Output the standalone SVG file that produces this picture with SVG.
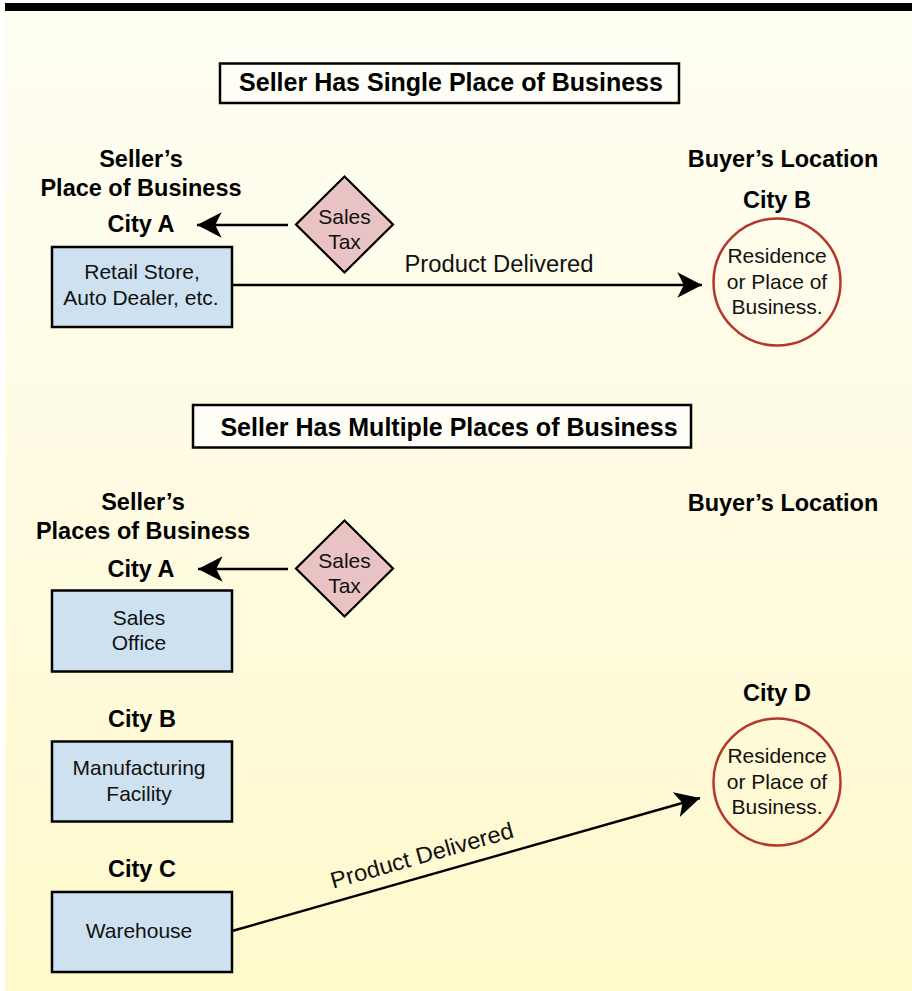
<svg xmlns="http://www.w3.org/2000/svg" width="912" height="991" viewBox="0 0 912 991">
  <defs>
    <linearGradient id="bg" x1="0" y1="0" x2="0" y2="1">
      <stop offset="0" stop-color="#fefef3"/>
      <stop offset="0.5" stop-color="#fffbe2"/>
      <stop offset="1" stop-color="#fff9cb"/>
    </linearGradient>
    <marker id="arrow" markerUnits="userSpaceOnUse" markerWidth="30" markerHeight="30" viewBox="-24 -14 26 28" refX="0" refY="0" orient="auto">
      <path d="M0,0 L-23,-12 L-17,0 L-23,12 Z" fill="#000"/>
    </marker>
    <style>
      .bold { font-family: "Liberation Sans", Arial, sans-serif; font-weight: bold; font-size: 23.5px; fill: #000; text-anchor: middle; }
      .title { font-family: "Liberation Sans", Arial, sans-serif; font-weight: bold; font-size: 25px; fill: #000; text-anchor: middle; }
      .body { font-family: "Liberation Sans", Arial, sans-serif; font-size: 21px; fill: #111; text-anchor: middle; }
      .label { font-family: "Liberation Sans", Arial, sans-serif; font-size: 23px; fill: #111; text-anchor: middle; }
      .titlebox { fill: #fefef6; stroke: #000; stroke-width: 2.5; }
      .box { fill: #cde1f0; stroke: #000; stroke-width: 2.5; }
      .tax { fill: #e9c3c3; stroke: #000; stroke-width: 2.2; }
      .buyer { fill: none; stroke: #b5372c; stroke-width: 2.5; }
      .conn { stroke: #000; stroke-width: 2.5; fill: none; marker-end: url(#arrow); }
    </style>
  </defs>

  <!-- page background and rule -->
  <rect x="5" y="11" width="907" height="980" fill="url(#bg)"/>
  <rect x="5" y="3" width="907" height="8" fill="#000"/>

  <!-- single place of business -->
  <g id="title-single">
    <rect class="titlebox" x="220" y="63.5" width="459" height="39.5"/>
    <text class="title" x="451" y="91">Seller Has Single Place of Business</text>
  </g>
  <g id="seller-heading-1">
    <text class="bold" x="141" y="167">Seller’s</text>
    <text class="bold" x="141" y="196">Place of Business</text>
    <text class="bold" x="141" y="232">City A</text>
  </g>
  <g id="tax-1">
    <polygon class="tax" points="344.5,176.5 393,224.5 344.5,272.5 296,224.5"/>
    <text class="body" x="344.5" y="224">Sales</text>
    <text class="body" x="344.5" y="249">Tax</text>
  </g>
  <g id="retail-store">
    <rect class="box" x="52" y="247" width="180" height="80"/>
    <text class="body" x="142" y="279">Retail Store,</text>
    <text class="body" x="141" y="305">Auto Dealer, etc.</text>
  </g>
  <g id="buyer-heading-1">
    <text class="bold" x="783" y="167">Buyer’s Location</text>
    <text class="bold" x="777" y="208">City B</text>
  </g>
  <g id="buyer-1">
    <circle class="buyer" cx="777" cy="282" r="63.5"/>
    <text class="body" x="777" y="263">Residence</text>
    <text class="body" x="777" y="289">or Place of</text>
    <text class="body" x="777" y="314">Business.</text>
  </g>

  <!-- multiple places of business -->
  <g id="title-multiple">
    <rect class="titlebox" x="193" y="405" width="498" height="42.5"/>
    <text class="title" x="449" y="436">Seller Has Multiple Places of Business</text>
  </g>
  <g id="seller-heading-2">
    <text class="bold" x="143" y="510">Seller’s</text>
    <text class="bold" x="143" y="539">Places of Business</text>
    <text class="bold" x="141" y="577">City A</text>
  </g>
  <g id="tax-2">
    <polygon class="tax" points="344.5,520.5 393,568.5 344.5,616.5 296,568.5"/>
    <text class="body" x="344.5" y="568">Sales</text>
    <text class="body" x="344.5" y="593">Tax</text>
  </g>
  <g id="sales-office">
    <rect class="box" x="52" y="590.5" width="180" height="81"/>
    <text class="body" x="139" y="625">Sales</text>
    <text class="body" x="139" y="650">Office</text>
  </g>
  <g id="manufacturing">
    <text class="bold" x="142" y="727">City B</text>
    <rect class="box" x="52" y="741.5" width="180" height="80"/>
    <text class="body" x="139" y="775">Manufacturing</text>
    <text class="body" x="139" y="801">Facility</text>
  </g>
  <g id="warehouse">
    <text class="bold" x="142" y="877">City C</text>
    <rect class="box" x="52" y="892" width="180" height="80"/>
    <text class="body" x="139" y="938">Warehouse</text>
  </g>
  <g id="buyer-heading-2">
    <text class="bold" x="783" y="511">Buyer’s Location</text>
    <text class="bold" x="777" y="701">City D</text>
  </g>
  <g id="buyer-2">
    <circle class="buyer" cx="777" cy="782" r="63.5"/>
    <text class="body" x="777" y="763">Residence</text>
    <text class="body" x="777" y="789">or Place of</text>
    <text class="body" x="777" y="814">Business.</text>
  </g>

  <!-- connectors -->
  <g id="connectors">
    <line class="conn" x1="288" y1="225" x2="197" y2="225"/>
    <line class="conn" x1="232" y1="285" x2="702" y2="285"/>
    <text class="label" x="499" y="272" textLength="189" lengthAdjust="spacingAndGlyphs">Product Delivered</text>
    <line class="conn" x1="288" y1="569" x2="198" y2="569"/>
    <line class="conn" x1="232" y1="931" x2="700" y2="798"/>
    <text class="label" x="424" y="863" textLength="189" lengthAdjust="spacingAndGlyphs" transform="rotate(-15.8 424 863)">Product Delivered</text>
  </g>
</svg>
